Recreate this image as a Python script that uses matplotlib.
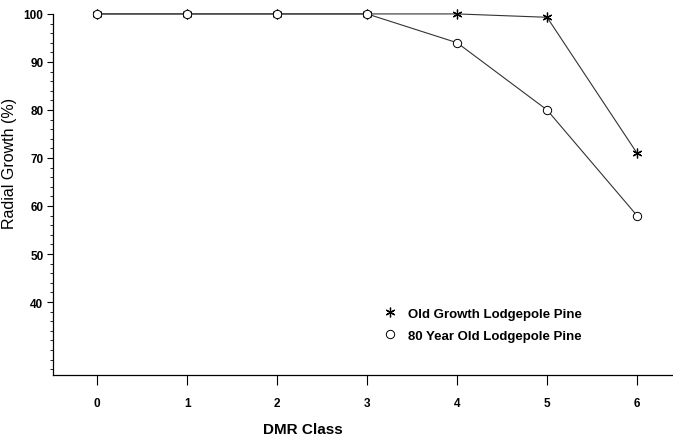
import matplotlib
matplotlib.use("Agg")
import matplotlib.pyplot as plt
from matplotlib.ticker import MultipleLocator

plt.rcParams['font.family'] = ['Liberation Sans', 'DejaVu Sans']

dmr_class = [0, 1, 2, 3, 4, 5, 6]
old_growth = [100, 100, 100, 100, 100, 99.3, 71]
year80 = [100, 100, 100, 100, 94, 80, 58]
y_ticks = [40, 50, 60, 70, 80, 90, 100]

fig = plt.figure(figsize=(6.73, 4.39), dpi=100)
ax = fig.add_axes([0.079, 0.1435, 0.921, 0.8225])

ax.plot(dmr_class, old_growth, color="#333333", lw=0.8,
        marker=(6, 2, 0), ms=7, mec="black", mew=0.9, clip_on=False,
        label="Old Growth Lodgepole Pine")
ax.plot(dmr_class, year80, color="#333333", lw=0.8,
        marker="o", ms=6, mfc="white", mec="black", mew=0.7, clip_on=False,
        label="80 Year Old Lodgepole Pine")

ax.set_xlim(-0.49, 6.4)
ax.set_ylim(24.8, 100)
ax.set_xticks(dmr_class)
ax.set_yticks(y_ticks)
ax.yaxis.set_minor_locator(MultipleLocator(2))
ax.tick_params(axis='y', which='minor', length=2, width=0.6)
ax.tick_params(axis='y', which='major', labelsize=8.5, length=4, width=0.8, pad=3)
ax.tick_params(axis='x', which='major', labelsize=8.5, length=7, width=0.8, pad=9)
for lab in ax.get_xticklabels() + ax.get_yticklabels():
    lab.set_fontweight('bold')

ax.spines['top'].set_visible(False)
ax.spines['right'].set_visible(False)
ax.spines['left'].set_linewidth(0.9)
ax.spines['bottom'].set_linewidth(0.9)

ax.set_xlabel("DMR Class", fontsize=11, fontweight='bold')
ax.xaxis.set_label_coords((303 - 53) / 620, -0.13)
ax.set_ylabel("Radial Growth (%)", fontsize=11.5)
ax.yaxis.set_label_coords(-0.058, 0.59)

ax.legend(loc="upper left", bbox_to_anchor=(0.525, 0.22), frameon=False,
          prop={'weight': 'bold', 'size': 9.5},
          handlelength=0, handletextpad=1.3, labelspacing=0.75)

fig.savefig("out.png", dpi=100)
